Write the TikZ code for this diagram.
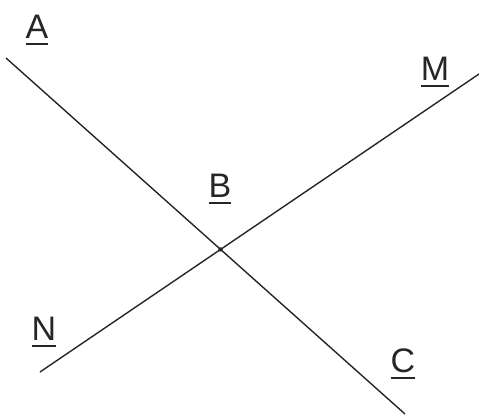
\documentclass[tikz,border=0pt]{standalone}
\usepackage{fontspec}
\setmainfont{Liberation Sans}
\newcommand{\ulname}[1]{\setbox0\hbox{#1}\rlap{\rule[-7pt]{\wd0}{2pt}}\box0}

\begin{document}
\begin{tikzpicture}[x=1pt,y=-1pt]
	\tikzstyle{pname}=[anchor=base,inner sep=0pt,font=\fontsize{34}{40}\selectfont,text=black!85]
	\tikzstyle{seg}=[line width=1.4pt,draw=black!85]
	\useasboundingbox (0,0) rectangle (479,415);
	\coordinate (endA) at (6,58);
	\coordinate (endC) at (405,414);
	\coordinate (endN) at (40,372);
	\coordinate (endM) at (479,74);
	\draw[seg] (endA) -- (endC);
	\draw[seg] (endN) -- (endM);
	\coordinate (cross) at (intersection of endA--endC and endN--endM);
	\fill[black!85] (cross) circle (2.2);
	\node[pname] (nA) at (37,38) {\ulname{A}};
	\node[pname] (nB) at (220,197) {\ulname{B}};
	\node[pname] (nM) at (435,80) {\ulname{M}};
	\node[pname] (nN) at (44,340) {\ulname{N}};
	\node[pname] (nC) at (403,372) {\ulname{C}};
\end{tikzpicture}
\end{document}
